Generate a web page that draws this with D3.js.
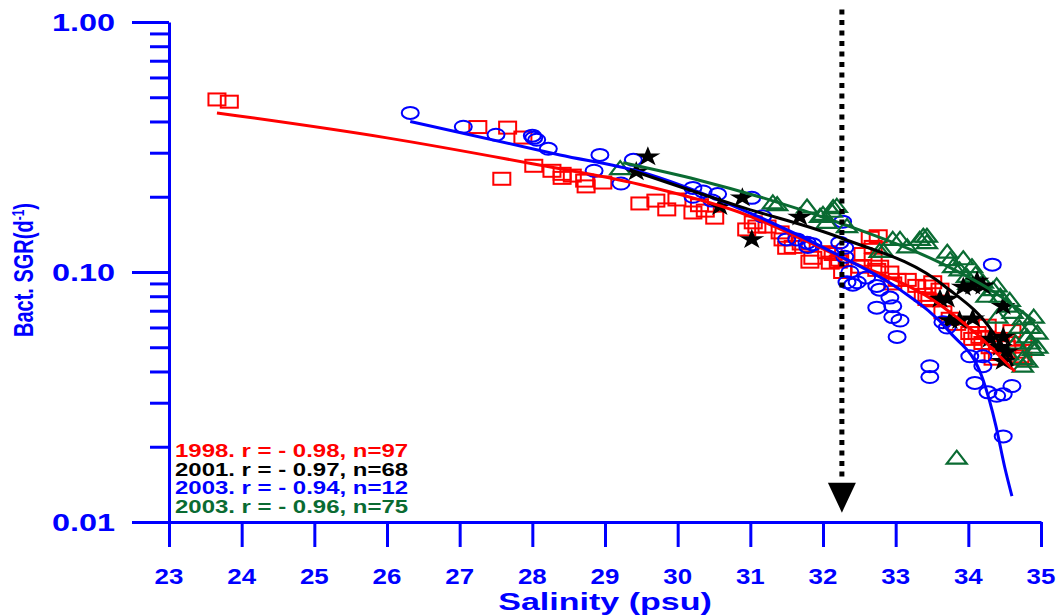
<!DOCTYPE html>
<html>
<head>
<meta charset="utf-8">
<script src="https://cdn.jsdelivr.net/npm/d3@7"></script>
<style>
  body { margin: 0; background: #fff; }
  svg { display: block; }
  text { font-family: "Liberation Sans", Arial, sans-serif; font-weight: bold; }
</style>
</head>
<body>
<svg id="chart" width="1062" height="615"></svg>
<script>
// ---- data: salinity (psu) vs bacterial specific growth rate (d^-1) ----
const xTickValues = [23, 24, 25, 26, 27, 28, 29, 30, 31, 32, 33, 34, 35];
const yTickValues = [0.01, 0.1, 1];
const yTickLabels = ["0.01", "0.10", "1.00"];

// 1998 survey (squares)
const pts1998 = [
  [23.66,0.49],[23.83,0.48],
  [27.25,0.38],[27.66,0.378],[27.87,0.345],[27.58,0.236],
  [28.02,0.266],[28.27,0.254],[28.41,0.247],[28.41,0.238],[28.72,0.232],[28.74,0.22],[28.97,0.228],[28.55,0.243],
  [29.48,0.188],[29.70,0.193],[29.85,0.178],[29.99,0.195],[30.21,0.173],[30.38,0.176],[30.51,0.165],[30.30,0.185],
  [31.04,0.158],[31.09,0.152],[31.23,0.152],[31.41,0.144],[31.45,0.135],[31.50,0.125],[31.59,0.126],[30.95,0.148],
  [31.86,0.114],[31.82,0.110],[32.05,0.120],[32.10,0.109],[32.14,0.118],[32.21,0.110],[32.23,0.112],[32.27,0.100],[31.70,0.130],
  [32.51,0.105],[32.65,0.137],[32.76,0.139],[32.69,0.126],[32.69,0.112],[32.74,0.102],[32.78,0.105],[32.55,0.118],
  [32.92,0.0995],[33.02,0.093],[33.16,0.093],[33.29,0.088],[33.43,0.0875],[33.51,0.091],[33.43,0.078],[33.38,0.081],[33.47,0.077],[32.96,0.09],
  [33.61,0.085],[33.65,0.069],[33.75,0.065],[33.84,0.062],[34.02,0.057],[34.06,0.054],[34.16,0.055],[34.12,0.057],[34.26,0.061],[34.20,0.052],
  [34.30,0.050],[34.34,0.045],[34.44,0.054],[34.53,0.050],[34.67,0.048],[34.71,0.046],[34.75,0.045],[34.75,0.054],[34.60,0.058],[34.40,0.047]
];

// 2001 survey (stars)
const pts2001 = [
  [29.59,0.289],[29.43,0.252],[30.58,0.183],[30.89,0.198],[31.02,0.135],[31.68,0.166],
  [33.61,0.078],[33.71,0.078],[33.93,0.087],[34.06,0.088],[34.12,0.092],[34.20,0.088],[34.48,0.073],
  [33.75,0.064],[33.88,0.064],[34.06,0.065],[34.30,0.054],[34.48,0.055],[34.44,0.050],[34.53,0.048],[34.48,0.044]
];

// 2003 survey, first set (circles)
const pts2003a = [
  [26.32,0.433],[27.05,0.381],[27.50,0.354],[28.00,0.351],[28.02,0.344],[28.06,0.338],[28.22,0.311],
  [28.93,0.294],[28.85,0.254],[29.22,0.226],[29.39,0.281],
  [30.21,0.217],[30.21,0.200],[30.35,0.21],[30.47,0.193],[30.55,0.205],[31.02,0.198],[31.17,0.167],
  [31.50,0.135],[31.64,0.135],[31.78,0.131],[31.79,0.126],[31.86,0.129],
  [32.27,0.159],[32.23,0.131],[32.30,0.125],[32.30,0.115],[32.37,0.100],[32.33,0.091],[32.41,0.089],[32.47,0.091],
  [32.60,0.095],[32.74,0.088],[32.78,0.085],[32.92,0.079],[32.74,0.072],[32.96,0.073],[32.96,0.066],[33.06,0.064],[33.02,0.055],
  [33.65,0.063],[33.71,0.060],[33.47,0.042],[33.47,0.038],
  [34.09,0.036],[34.20,0.046],[34.20,0.042],[34.27,0.033],[34.39,0.032],[34.48,0.0324],[34.60,0.035],[34.48,0.022],[34.33,0.107],[34.02,0.046]
];

// 2003 survey, second set (triangles)
const pts2003b = [
  [29.21,0.259],
  [31.31,0.189],[31.37,0.186],[31.78,0.182],[31.96,0.167],[32.00,0.170],[32.12,0.175],[32.14,0.181],[32.19,0.183],[32.05,0.158],[32.33,0.152],
  [32.78,0.121],[32.83,0.121],[32.96,0.135],[33.06,0.135],[33.16,0.126],[33.33,0.135],[33.38,0.139],[33.43,0.131],[33.43,0.139],
  [33.71,0.120],[33.75,0.112],[33.79,0.105],[33.88,0.102],[33.98,0.096],[33.93,0.113],[34.05,0.105],[34.10,0.098],[34.00,0.090],
  [34.20,0.091],[34.34,0.085],[34.39,0.088],[34.44,0.080],[34.25,0.080],[34.53,0.073],[34.57,0.077],[34.61,0.069],[34.40,0.066],
  [34.75,0.065],[34.85,0.060],[34.70,0.060],[34.90,0.066],[34.95,0.057],[34.81,0.055],[34.85,0.052],[34.89,0.049],[34.65,0.052],
  [34.75,0.045],[34.81,0.044],[34.75,0.042],[34.55,0.047],[34.95,0.050],
  [33.84,0.018]
];

// regression curves
const fit1998  = [[23.66,0.433],[26.0,0.344],[28.0,0.271],[29.48,0.224],[30.86,0.173],[32.23,0.115],[33.61,0.074],[34.1,0.057],[34.64,0.040]];
const fit2003a = [[26.32,0.40],[28.38,0.294],[29.48,0.252],[30.86,0.179],[32.23,0.116],[33.06,0.085],[33.75,0.0573],[34.20,0.0372],[34.38,0.0242],[34.50,0.0166],[34.60,0.0127]];
const fit2001  = [[29.34,0.2565],[30.86,0.1826],[32.23,0.1374],[33.68,0.0875],[34.34,0.0573],[34.61,0.042]];
const fit2003b = [[29.25,0.2736],[30.27,0.234],[32.26,0.156],[33.61,0.109],[34.3,0.0851],[34.92,0.0634]];

// salinity threshold marker
const arrowSalinity = 32.26;
const arrowTopSGR = 1.122;
const arrowShaftEndSGR = 0.01486;
const arrowTipSGR = 0.0109;

const legendLabels = ["1998. r = - 0.98, n=97", "2001. r = - 0.97, n=68", "2003. r = - 0.94, n=12", "2003. r = - 0.96, n=75"];
const legendColors = ["#ff0000", "#000000", "#0000ff", "#0a6b32"];

// ---- drawing ----
const BLUE = "#0000ff", RED = "#ff0000", GREEN = "#0a6b32", BLACK = "#000000";
const STRETCH = 1.35;

const svg = d3.select("#chart");
const x = d3.scaleLinear().domain([23, 35]).range([169, 1041]);
const y = d3.scaleLog().domain([0.01, 1]).range([522, 22]);

function label(g, tx, ty, str, opts) {
  return g.append("text")
    .attr("transform", `translate(${tx},${ty}) scale(${opts.sx || STRETCH},1)`)
    .attr("text-anchor", opts.anchor || "start")
    .attr("font-size", opts.size)
    .attr("fill", opts.color || BLUE)
    .text(str);
}

// x axis
const xAxis = svg.append("g").attr("transform", `translate(0,${y(0.01)})`)
  .call(d3.axisBottom(x).tickValues(xTickValues).tickSize(25).tickSizeOuter(0).tickFormat(""));
// y axis
const yMinor = y.ticks();
const yAxis = svg.append("g").attr("transform", `translate(${x(23)},0)`)
  .call(d3.axisLeft(y).tickValues(yMinor).tickSize(37).tickSizeOuter(0).tickFormat(""));
yAxis.selectAll(".tick line").attr("x2", d => yTickValues.some(v => Math.abs(v - d) < 1e-9) ? -37 : -19);

[xAxis, yAxis].forEach(a => {
  a.select(".domain").attr("stroke", BLUE).attr("stroke-width", 3);
  a.selectAll(".tick line").attr("stroke", BLUE).attr("stroke-width", 3);
});

// tick labels
const labels = svg.append("g");
xTickValues.forEach(v => label(labels, x(v), 584, String(v), {size: 22.5, anchor: "middle", sx: 1.15}));
yTickValues.forEach((v, i) => label(labels, 115, y(v) + 8.5, yTickLabels[i], {size: 24, anchor: "end"}));

// axis titles
label(labels, 605, 610, "Salinity (psu)", {size: 23, anchor: "middle", sx: 1.48});
const yt = labels.append("text")
  .attr("transform", `translate(33,270) rotate(-90) scale(1,${STRETCH})`)
  .attr("text-anchor", "middle").attr("font-size", 20).attr("fill", BLUE);
yt.append("tspan").text("Bact. SGR(d");
yt.append("tspan").attr("font-size", 12).attr("dy", -7).text("-1");
yt.append("tspan").attr("dy", 7).text(")");

// markers
const plot = svg.append("g");

plot.append("g").selectAll("rect").data(pts1998).join("rect")
  .attr("x", d => x(d[0]) - 8.5).attr("y", d => y(d[1]) - 6)
  .attr("width", 17).attr("height", 12)
  .attr("fill", "none").attr("stroke", RED).attr("stroke-width", 2);

plot.append("g").selectAll("ellipse").data(pts2003a).join("ellipse")
  .attr("cx", d => x(d[0])).attr("cy", d => y(d[1]))
  .attr("rx", 8.5).attr("ry", 6)
  .attr("fill", "none").attr("stroke", BLUE).attr("stroke-width", 2);

plot.append("g").selectAll("path").data(pts2003b).join("path")
  .attr("d", "M0,-7.5L10,5.5L-10,5.5Z")
  .attr("transform", d => `translate(${x(d[0])},${y(d[1])})`)
  .attr("fill", "none").attr("stroke", GREEN).attr("stroke-width", 2.2).attr("stroke-linejoin", "miter");

const star = d3.symbol().type(d3.symbolStar).size(125);
plot.append("g").selectAll("path").data(pts2001).join("path")
  .attr("d", star)
  .attr("transform", d => `translate(${x(d[0])},${y(d[1])}) scale(1.25,1)`)
  .attr("fill", BLACK);

// regression curves
const line = d3.line().x(d => x(d[0])).y(d => y(d[1])).curve(d3.curveMonotoneX);
[[fit1998, RED], [fit2003a, BLUE], [fit2003b, GREEN], [fit2001, BLACK]].forEach(([pts, c]) => {
  plot.append("path").attr("d", line(pts))
    .attr("fill", "none").attr("stroke", c).attr("stroke-width", 3);
});

// threshold arrow
const ax = x(arrowSalinity);
svg.append("line")
  .attr("x1", ax).attr("x2", ax)
  .attr("y1", y(arrowTopSGR)).attr("y2", y(arrowShaftEndSGR))
  .attr("stroke", BLACK).attr("stroke-width", 5).attr("stroke-dasharray", "5,5.5");
const tipY = y(arrowTipSGR);
svg.append("path")
  .attr("d", `M${ax - 14},${tipY - 30}L${ax + 14},${tipY - 30}L${ax},${tipY}Z`)
  .attr("fill", BLACK);

// legend
const lg = svg.append("g");
legendLabels.forEach((t, i) => label(lg, 175, 457 + i * 18.6, t, {size: 17.5, color: legendColors[i], sx: 1.37}));
</script>
</body>
</html>
